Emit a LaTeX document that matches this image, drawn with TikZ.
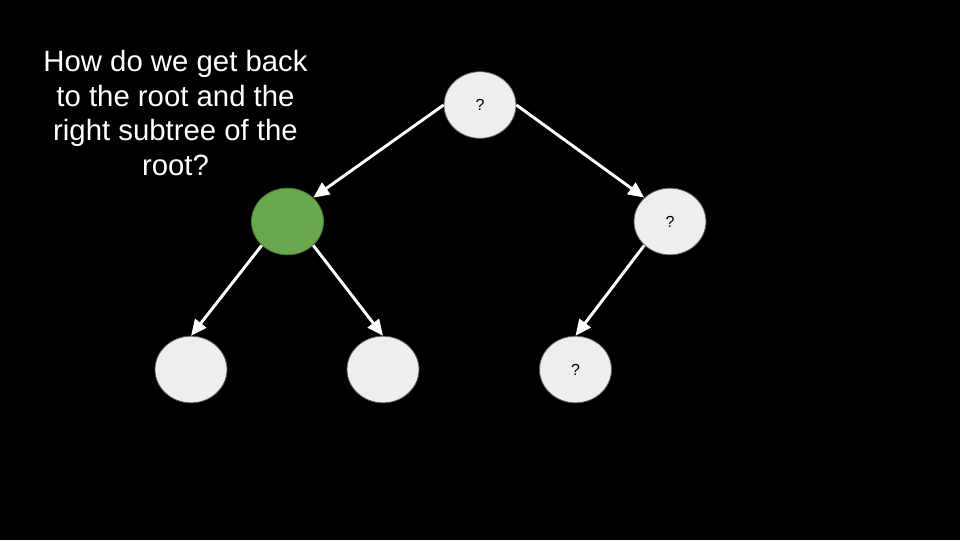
\documentclass[tikz,border=0pt]{standalone}
\usepackage{fontspec}
\setmainfont{Liberation Sans}
\usetikzlibrary{shapes.geometric,arrows.meta}
\definecolor{nodegray}{HTML}{EEEEEE}
\definecolor{nodegreen}{HTML}{6AA84F}
\tikzset{
  treenode/.style={ellipse, draw=gray!70!black, line width=0.6pt, fill=nodegray,
    minimum width=54pt, minimum height=50pt, inner sep=0pt, font=\fontsize{12}{14}\selectfont},
  greennode/.style={treenode, fill=nodegreen, draw=nodegreen!70!black},
  edge/.style={draw=white, line width=2.2pt, -{Triangle[length=12pt,width=10.5pt]}}
}
\begin{document}
\begin{tikzpicture}[x=0.75pt,y=-0.75pt]
\fill[black] (0,0) rectangle (960,540);
\useasboundingbox (0,0) rectangle (960,540);
\node[treenode] (root) at (480,105) {?};
\node[greennode] (l) at (287.5,221.5) {};
\node[treenode] (r) at (670,221.5) {?};
\node[treenode] (ll) at (191,369.5) {};
\node[treenode] (lr) at (383,369.5) {};
\node[treenode] (rl) at (575.5,369.5) {?};
\draw[edge] (root.west) -- (l.north east);
\draw[edge] (root.east) -- (r.north west);
\draw[edge] (l.south west) -- (ll.north);
\draw[edge] (l.south east) -- (lr.north);
\draw[edge] (r.south west) -- (rl.north);
\node[text=white, align=center, font=\fontsize{22}{26}\selectfont] (q) at (175.5,113)
  {How do we get back\\to the root and the\\right subtree of the\\root?};
\end{tikzpicture}
\end{document}
